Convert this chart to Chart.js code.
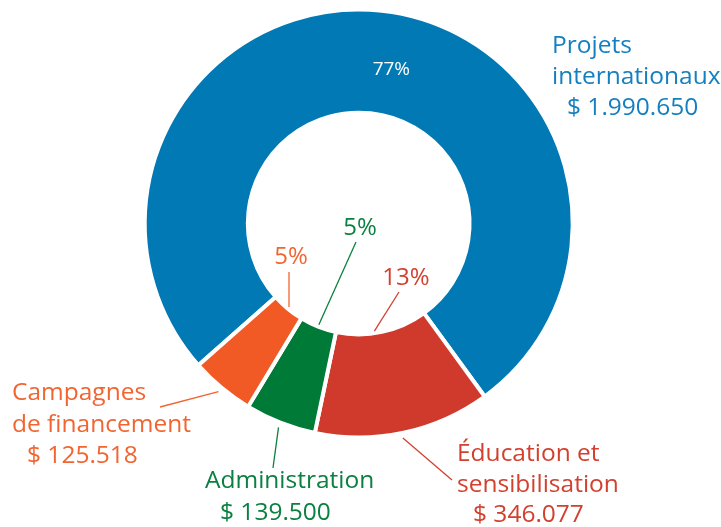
<!DOCTYPE html>
<html>
<head>
<meta charset="utf-8">
<script src="https://cdn.jsdelivr.net/npm/chart.js@4/dist/chart.umd.min.js"></script>
<style>
  html, body { margin: 0; padding: 0; background: #ffffff; }
  #wrap { width: 721px; height: 527px; }
</style>
</head>
<body>
<div id="wrap"><canvas id="c" width="721" height="527"></canvas></div>
<script>
// ---- Data ----
const categories = ["Projets internationaux", "Éducation et sensibilisation", "Administration", "Campagnes de financement"];
const amounts = [1990650, 346077, 139500, 125518];
const amountLabels = ["$ 1.990.650", "$ 346.077", "$ 139.500", "$ 125.518"];
const percentLabels = ["77%", "13%", "5%", "5%"];
const labelLines = [["Projets", "internationaux"], ["Éducation et", "sensibilisation"], ["Administration"], ["Campagnes", "de financement"]];

// ---- Styles ----
const sliceColors = ["#0079B5", "#CF3A2C", "#007A37", "#F15A24"];
const textColors = ["#1580BF", "#D2402F", "#0B8040", "#F26530"];
const FONT = "'Open Sans', 'Noto Sans', sans-serif";

// per-slice label layout (positions of annotation text, in px)
const labelLayout = [
  { // blue
    pct: { inside: true, frac: 0.521, r: 157, size: 19 },
    name: { lines: [[552, 53], [552, 84]], amount: [567, 115], size: 24.5 },
    outerLine: null
  },
  { // red
    pct: { x: 406, y: 285, size: 24, lineFrac: 0.58, lineEnd: [399, 292] },
    name: { lines: [[457, 461], [457, 492]], amount: [473, 522], size: 24.5 },
    outerLine: { frac: 0.51, end: [452, 480] }
  },
  { // green
    pct: { x: 360, y: 235, size: 24, lineFrac: 0.5, lineEnd: [356, 242] },
    name: { lines: [[205, 488]], amount: [220, 520], size: 24.5 },
    outerLine: { frac: 0.5, end: [273, 468] }
  },
  { // orange
    pct: { x: 291, y: 264, size: 24, lineFrac: 0.5, lineEnd: [289, 272] },
    name: { lines: [[12, 400], [12, 432]], amount: [27, 463], size: 24.5 },
    outerLine: { frac: 0.5, end: [160, 407] }
  }
];

const labelPlugin = {
  id: 'donutLabels',
  afterDatasetsDraw(chart) {
    const ctx = chart.ctx;
    const meta = chart.getDatasetMeta(0);
    meta.data.forEach((arc, i) => {
      const p = arc.getProps(['x', 'y', 'startAngle', 'endAngle', 'innerRadius', 'outerRadius'], true);
      const L = labelLayout[i];
      const angAt = f => p.startAngle + (p.endAngle - p.startAngle) * f;
      ctx.save();
      // percentage
      ctx.fillStyle = L.pct.inside ? '#ffffff' : textColors[i];
      ctx.font = `${L.pct.size}px ${FONT}`;
      ctx.textAlign = 'center';
      if (L.pct.inside) {
        const a = angAt(L.pct.frac);
        ctx.textBaseline = 'middle';
        ctx.fillText(percentLabels[i], p.x + Math.cos(a) * L.pct.r, p.y + Math.sin(a) * L.pct.r);
      } else {
        ctx.textBaseline = 'alphabetic';
        ctx.fillText(percentLabels[i], L.pct.x, L.pct.y);
        const a = angAt(L.pct.lineFrac);
        const r = p.innerRadius - 2;
        ctx.strokeStyle = textColors[i];
        ctx.lineWidth = 1.3;
        ctx.beginPath();
        ctx.moveTo(p.x + Math.cos(a) * r, p.y + Math.sin(a) * r);
        ctx.lineTo(L.pct.lineEnd[0], L.pct.lineEnd[1]);
        ctx.stroke();
      }
      // outer leader line
      if (L.outerLine) {
        const a = angAt(L.outerLine.frac);
        const r = p.outerRadius + 5;
        ctx.strokeStyle = textColors[i];
        ctx.lineWidth = 1.3;
        ctx.beginPath();
        ctx.moveTo(p.x + Math.cos(a) * r, p.y + Math.sin(a) * r);
        ctx.lineTo(L.outerLine.end[0], L.outerLine.end[1]);
        ctx.stroke();
      }
      // category name and amount
      ctx.fillStyle = textColors[i];
      ctx.font = `${L.name.size}px ${FONT}`;
      ctx.textAlign = 'left';
      ctx.textBaseline = 'alphabetic';
      labelLines[i].forEach((t, k) => ctx.fillText(t, L.name.lines[k][0], L.name.lines[k][1]));
      ctx.fillText(amountLabels[i], L.name.amount[0], L.name.amount[1]);
      ctx.restore();
    });
  }
};

const startDeg = 138.5; // canvas angle where first slice starts

new Chart(document.getElementById('c'), {
  type: 'doughnut',
  data: {
    labels: categories,
    datasets: [{
      data: amounts,
      backgroundColor: sliceColors,
      borderColor: '#ffffff',
      borderWidth: 4,
      hoverOffset: 0
    }]
  },
  options: {
    responsive: false,
    animation: false,
    rotation: startDeg + 90,
    cutout: '51.8%',
    layout: { padding: { left: 142.7, top: 7.5, right: 146.3, bottom: 87.5 } },
    plugins: {
      legend: { display: false },
      tooltip: { enabled: false }
    }
  },
  plugins: [labelPlugin]
});
</script>
</body>
</html>
